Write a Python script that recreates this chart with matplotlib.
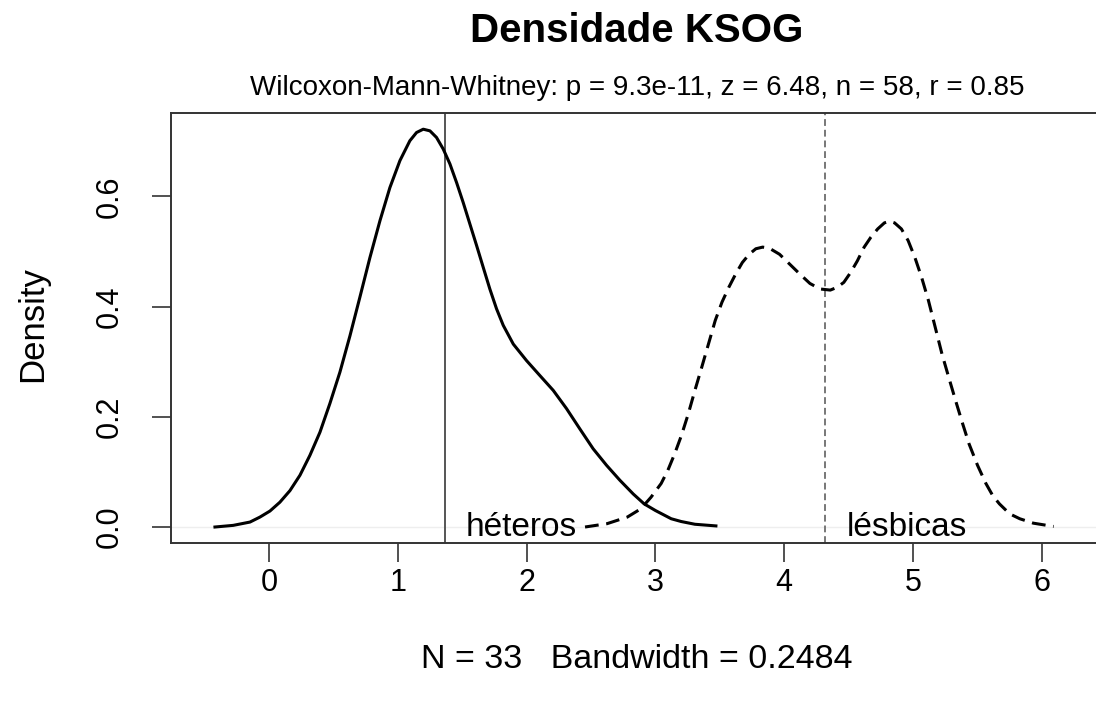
import matplotlib
matplotlib.use('Agg')
import matplotlib.pyplot as plt

plt.rcParams['font.family'] = ['Liberation Sans', 'DejaVu Sans']

# density of the first group (solid curve)
het_x = [-0.419, -0.277, -0.147, -0.070, 0.008, 0.085, 0.163, 0.241, 0.318,
         0.396, 0.473, 0.551, 0.629, 0.706, 0.784, 0.862, 0.939, 1.017,
         1.094, 1.146, 1.198, 1.250, 1.301, 1.353, 1.405, 1.457, 1.508,
         1.560, 1.612, 1.664, 1.715, 1.767, 1.819, 1.897, 2.000, 2.103,
         2.207, 2.310, 2.414, 2.517, 2.621, 2.724, 2.828, 2.913, 3.000,
         3.123, 3.200, 3.307, 3.470]
het_y = [0.0, 0.003, 0.009, 0.018, 0.029, 0.045, 0.066, 0.094, 0.130,
         0.172, 0.224, 0.281, 0.347, 0.417, 0.489, 0.556, 0.616, 0.665,
         0.701, 0.716, 0.722, 0.719, 0.707, 0.686, 0.659, 0.625, 0.589,
         0.550, 0.511, 0.471, 0.432, 0.396, 0.366, 0.332, 0.302, 0.275,
         0.248, 0.215, 0.178, 0.142, 0.112, 0.085, 0.060, 0.042, 0.030,
         0.015, 0.010, 0.005, 0.002]

# density of the second group (dashed curve)
les_x = [2.454, 2.624, 2.782, 2.887, 2.966, 3.045, 3.097, 3.150, 3.202,
         3.255, 3.307, 3.360, 3.412, 3.465, 3.517, 3.570, 3.623, 3.675,
         3.728, 3.780, 3.833, 3.885, 3.964, 4.043, 4.122, 4.200, 4.279,
         4.358, 4.411, 4.463, 4.516, 4.568, 4.621, 4.673, 4.726, 4.778,
         4.818, 4.857, 4.910, 4.962, 5.015, 5.067, 5.120, 5.172, 5.225,
         5.277, 5.330, 5.382, 5.435, 5.501, 5.566, 5.619, 5.671, 5.750,
         5.829, 5.934, 6.092]
les_y = [0.0, 0.006, 0.018, 0.033, 0.054, 0.079, 0.103, 0.133, 0.166,
         0.205, 0.248, 0.290, 0.332, 0.375, 0.408, 0.435, 0.459, 0.480,
         0.495, 0.505, 0.508, 0.506, 0.495, 0.477, 0.459, 0.442, 0.432,
         0.430, 0.435, 0.444, 0.462, 0.483, 0.508, 0.526, 0.541, 0.552,
         0.555, 0.552, 0.541, 0.520, 0.489, 0.453, 0.411, 0.363, 0.314,
         0.272, 0.230, 0.190, 0.151, 0.112, 0.079, 0.057, 0.042, 0.024,
         0.015, 0.007, 0.001]

# group medians (vertical lines) and labels
medians = [1.366, 4.317]
labels = ['héteros', 'lésbicas']
label_x = [1.53, 4.485]

x_ticks = [0, 1, 2, 3, 4, 5, 6]
y_ticks = [0.0, 0.2, 0.4, 0.6]

fig = plt.figure(figsize=(10.96, 7.02), dpi=100)
ax = fig.add_axes([0.1557, 0.2269, 0.8535, 0.6126])

ax.axhline(0, color='#eeeeee', lw=1.0, zorder=1)
ax.plot(het_x, het_y, color='black', lw=2.2, zorder=3)
ax.plot(les_x, les_y, color='black', lw=2.2, dashes=(4.5, 2.5), zorder=3)
ax.axvline(medians[0], color='#555555', lw=1.4, zorder=2)
ax.axvline(medians[1], color='#777777', lw=1.4, dashes=(3.5, 2), zorder=2)

for lx, lab in zip(label_x, labels):
    ax.text(lx, 0, lab, fontsize=24, ha='left', va='center', zorder=4)

ax.set_xlim(-0.763, 6.499)
ax.set_ylim(-0.0285, 0.752)
ax.set_xticks(x_ticks)
ax.set_xticklabels([str(t) for t in x_ticks])
ax.set_yticks(y_ticks)
ax.set_yticklabels(['%.1f' % t for t in y_ticks], rotation=90, va='center')

for sp in ax.spines.values():
    sp.set_color('#333333')
    sp.set_linewidth(1.4)
ax.tick_params(axis='both', length=14, width=1.2, color='#333333',
               labelsize=22)
ax.tick_params(axis='x', pad=4)
ax.tick_params(axis='y', pad=19)

fig.text(0.581, 1 - 31 / 702, 'Densidade KSOG', fontsize=29,
         fontweight='bold', ha='center', va='center')
fig.text(0.581, 1 - 88 / 702,
         'Wilcoxon-Mann-Whitney: p = 9.3e-11, z = 6.48, n = 58, r = 0.85',
         fontsize=20, ha='center', va='center')
fig.text(0.581, 1 - 660 / 702, 'N = 33   Bandwidth = 0.2484', fontsize=24.5,
         ha='center', va='center')
fig.text(33 / 1096, 1 - 324 / 702, 'Density', fontsize=25, rotation=90,
         ha='center', va='center')

fig.savefig('out.png', dpi=100)
